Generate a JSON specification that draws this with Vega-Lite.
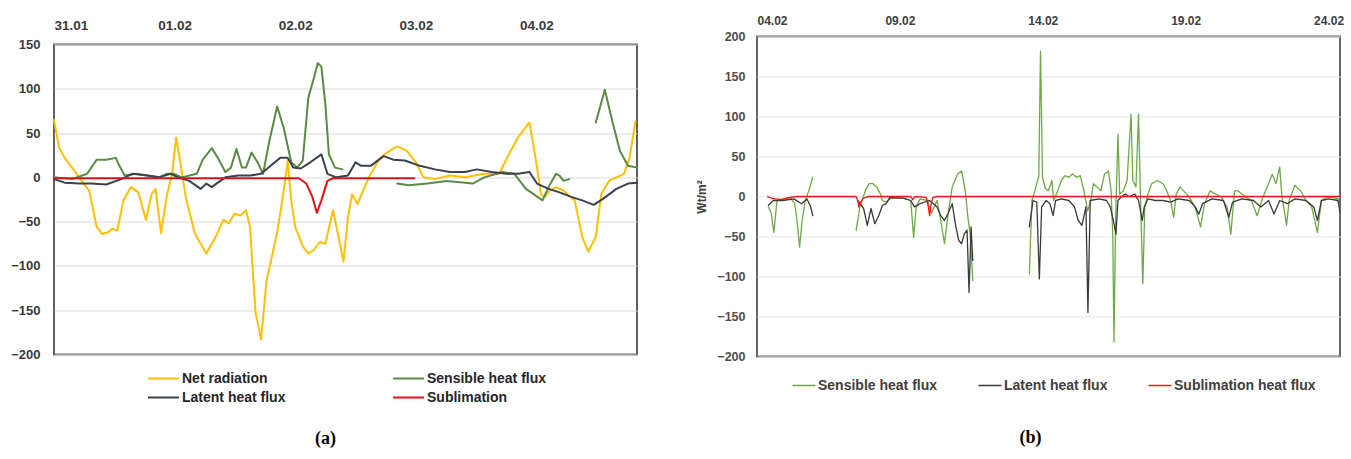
{
  "$schema": "https://vega.github.io/schema/vega-lite/v6.json",
  "background": "white",
  "padding": {"left": 9, "top": 13.5, "right": 5, "bottom": 0},
  "config": {"concat": {"spacing": 55}, "axis": {"labelFont": "Liberation Sans", "titleFont": "Liberation Sans"}, "legend": {"labelFont": "Liberation Sans"}},
  "datasets": {
    "a": [
      {"series":"Net radiation","seg":1,"t":0,"value":65},{"series":"Net radiation","seg":1,"t":1.0,"value":34},{"series":"Net radiation","seg":1,"t":2.1,"value":22},{"series":"Net radiation","seg":1,"t":3.6,"value":11},{"series":"Net radiation","seg":1,"t":5.5,"value":-4},{"series":"Net radiation","seg":1,"t":7.0,"value":-15},{"series":"Net radiation","seg":1,"t":8.5,"value":-56},{"series":"Net radiation","seg":1,"t":9.6,"value":-64},{"series":"Net radiation","seg":1,"t":10.8,"value":-62},{"series":"Net radiation","seg":1,"t":11.5,"value":-58},{"series":"Net radiation","seg":1,"t":12.6,"value":-60},{"series":"Net radiation","seg":1,"t":13.8,"value":-26},{"series":"Net radiation","seg":1,"t":15.3,"value":-11},{"series":"Net radiation","seg":1,"t":16.8,"value":-17},{"series":"Net radiation","seg":1,"t":18.3,"value":-48},{"series":"Net radiation","seg":1,"t":19.4,"value":-19},{"series":"Net radiation","seg":1,"t":20.2,"value":-13},{"series":"Net radiation","seg":1,"t":21.3,"value":-63},{"series":"Net radiation","seg":1,"t":22.4,"value":-22},{"series":"Net radiation","seg":1,"t":23.5,"value":4},{"series":"Net radiation","seg":1,"t":24.3,"value":45},{"series":"Net radiation","seg":1,"t":25.0,"value":22},{"series":"Net radiation","seg":1,"t":26.2,"value":-22},{"series":"Net radiation","seg":1,"t":28.0,"value":-63},{"series":"Net radiation","seg":1,"t":30.3,"value":-86},{"series":"Net radiation","seg":1,"t":32.2,"value":-67},{"series":"Net radiation","seg":1,"t":33.7,"value":-48},{"series":"Net radiation","seg":1,"t":34.8,"value":-52},{"series":"Net radiation","seg":1,"t":35.9,"value":-41},{"series":"Net radiation","seg":1,"t":37.1,"value":-43},{"series":"Net radiation","seg":1,"t":38.2,"value":-37},{"series":"Net radiation","seg":1,"t":39.0,"value":-56},{"series":"Net radiation","seg":1,"t":40.1,"value":-153},{"series":"Net radiation","seg":1,"t":41.2,"value":-183},{"series":"Net radiation","seg":1,"t":42.3,"value":-116},{"series":"Net radiation","seg":1,"t":43.5,"value":-86},{"series":"Net radiation","seg":1,"t":44.6,"value":-56},{"series":"Net radiation","seg":1,"t":45.7,"value":-15},{"series":"Net radiation","seg":1,"t":46.5,"value":19},{"series":"Net radiation","seg":1,"t":47.2,"value":-26},{"series":"Net radiation","seg":1,"t":48.0,"value":-56},{"series":"Net radiation","seg":1,"t":49.5,"value":-78},{"series":"Net radiation","seg":1,"t":50.6,"value":-86},{"series":"Net radiation","seg":1,"t":51.7,"value":-82},{"series":"Net radiation","seg":1,"t":52.9,"value":-73},{"series":"Net radiation","seg":1,"t":54.0,"value":-75},{"series":"Net radiation","seg":1,"t":55.5,"value":-37},{"series":"Net radiation","seg":1,"t":56.6,"value":-67},{"series":"Net radiation","seg":1,"t":57.6,"value":-95},{"series":"Net radiation","seg":1,"t":58.5,"value":-45},{"series":"Net radiation","seg":1,"t":59.3,"value":-19},{"series":"Net radiation","seg":1,"t":60.4,"value":-30},{"series":"Net radiation","seg":1,"t":61.5,"value":-15},{"series":"Net radiation","seg":1,"t":63.0,"value":4},{"series":"Net radiation","seg":1,"t":64.9,"value":22},{"series":"Net radiation","seg":1,"t":66.8,"value":30},{"series":"Net radiation","seg":1,"t":68.3,"value":35},{"series":"Net radiation","seg":1,"t":70.2,"value":30},{"series":"Net radiation","seg":1,"t":72.0,"value":17},{"series":"Net radiation","seg":1,"t":73.5,"value":0},{"series":"Net radiation","seg":1,"t":75.8,"value":-2},{"series":"Net radiation","seg":1,"t":78.8,"value":2},{"series":"Net radiation","seg":1,"t":81.8,"value":0},{"series":"Net radiation","seg":1,"t":85.6,"value":4},{"series":"Net radiation","seg":1,"t":88.6,"value":4},{"series":"Net radiation","seg":1,"t":90.5,"value":26},{"series":"Net radiation","seg":1,"t":92.3,"value":45},{"series":"Net radiation","seg":1,"t":94.6,"value":62},{"series":"Net radiation","seg":1,"t":95.7,"value":26},{"series":"Net radiation","seg":1,"t":96.9,"value":-19},{"series":"Net radiation","seg":1,"t":97.6,"value":-22},{"series":"Net radiation","seg":1,"t":98.7,"value":-15},{"series":"Net radiation","seg":1,"t":99.9,"value":-11},{"series":"Net radiation","seg":1,"t":101.4,"value":-15},{"series":"Net radiation","seg":1,"t":103.6,"value":-26},{"series":"Net radiation","seg":1,"t":105.1,"value":-67},{"series":"Net radiation","seg":1,"t":106.3,"value":-84},{"series":"Net radiation","seg":1,"t":107.8,"value":-67},{"series":"Net radiation","seg":1,"t":108.9,"value":-19},{"series":"Net radiation","seg":1,"t":110.4,"value":-4},{"series":"Net radiation","seg":1,"t":111.9,"value":0},{"series":"Net radiation","seg":1,"t":113.4,"value":4},{"series":"Net radiation","seg":1,"t":114.5,"value":22},{"series":"Net radiation","seg":1,"t":115.7,"value":63},
      {"series":"Sensible heat flux","seg":1,"t":0,"value":0},{"series":"Sensible heat flux","seg":1,"t":3.6,"value":-2},{"series":"Sensible heat flux","seg":1,"t":6.6,"value":4},{"series":"Sensible heat flux","seg":1,"t":8.5,"value":20},{"series":"Sensible heat flux","seg":1,"t":10.4,"value":20},{"series":"Sensible heat flux","seg":1,"t":12.3,"value":22},{"series":"Sensible heat flux","seg":1,"t":13.0,"value":13},{"series":"Sensible heat flux","seg":1,"t":14.1,"value":2},{"series":"Sensible heat flux","seg":1,"t":16.4,"value":4},{"series":"Sensible heat flux","seg":1,"t":18.6,"value":2},{"series":"Sensible heat flux","seg":1,"t":20.9,"value":0},{"series":"Sensible heat flux","seg":1,"t":22.4,"value":4},{"series":"Sensible heat flux","seg":1,"t":23.9,"value":4},{"series":"Sensible heat flux","seg":1,"t":25.4,"value":0},{"series":"Sensible heat flux","seg":1,"t":28.4,"value":4},{"series":"Sensible heat flux","seg":1,"t":29.6,"value":20},{"series":"Sensible heat flux","seg":1,"t":31.4,"value":33},{"series":"Sensible heat flux","seg":1,"t":32.6,"value":22},{"series":"Sensible heat flux","seg":1,"t":34.1,"value":6},{"series":"Sensible heat flux","seg":1,"t":35.2,"value":11},{"series":"Sensible heat flux","seg":1,"t":36.3,"value":32},{"series":"Sensible heat flux","seg":1,"t":37.4,"value":11},{"series":"Sensible heat flux","seg":1,"t":38.2,"value":11},{"series":"Sensible heat flux","seg":1,"t":39.3,"value":28},{"series":"Sensible heat flux","seg":1,"t":40.5,"value":17},{"series":"Sensible heat flux","seg":1,"t":41.6,"value":4},{"series":"Sensible heat flux","seg":1,"t":42.7,"value":37},{"series":"Sensible heat flux","seg":1,"t":44.4,"value":80},{"series":"Sensible heat flux","seg":1,"t":45.7,"value":56},{"series":"Sensible heat flux","seg":1,"t":47.2,"value":17},{"series":"Sensible heat flux","seg":1,"t":48.4,"value":11},{"series":"Sensible heat flux","seg":1,"t":49.5,"value":19},{"series":"Sensible heat flux","seg":1,"t":50.6,"value":90},{"series":"Sensible heat flux","seg":1,"t":51.7,"value":112},{"series":"Sensible heat flux","seg":1,"t":52.5,"value":129},{"series":"Sensible heat flux","seg":1,"t":53.2,"value":125},{"series":"Sensible heat flux","seg":1,"t":54.0,"value":82},{"series":"Sensible heat flux","seg":1,"t":54.7,"value":26},{"series":"Sensible heat flux","seg":1,"t":55.9,"value":11},{"series":"Sensible heat flux","seg":1,"t":57.4,"value":9},
      {"series":"Sensible heat flux","seg":2,"t":68.3,"value":-7},{"series":"Sensible heat flux","seg":2,"t":70.5,"value":-9},{"series":"Sensible heat flux","seg":2,"t":74.3,"value":-7},{"series":"Sensible heat flux","seg":2,"t":78.1,"value":-4},{"series":"Sensible heat flux","seg":2,"t":81.8,"value":-6},{"series":"Sensible heat flux","seg":2,"t":83.3,"value":-7},{"series":"Sensible heat flux","seg":2,"t":85.6,"value":0},{"series":"Sensible heat flux","seg":2,"t":89.3,"value":6},{"series":"Sensible heat flux","seg":2,"t":91.6,"value":4},{"series":"Sensible heat flux","seg":2,"t":93.9,"value":-13},{"series":"Sensible heat flux","seg":2,"t":95.7,"value":-20},{"series":"Sensible heat flux","seg":2,"t":97.2,"value":-26},{"series":"Sensible heat flux","seg":2,"t":98.4,"value":-11},{"series":"Sensible heat flux","seg":2,"t":99.9,"value":4},{"series":"Sensible heat flux","seg":2,"t":100.6,"value":2},{"series":"Sensible heat flux","seg":2,"t":101.4,"value":-4},{"series":"Sensible heat flux","seg":2,"t":102.5,"value":-2},
      {"series":"Sensible heat flux","seg":3,"t":107.8,"value":62},{"series":"Sensible heat flux","seg":3,"t":109.6,"value":99},{"series":"Sensible heat flux","seg":3,"t":111.1,"value":63},{"series":"Sensible heat flux","seg":3,"t":112.6,"value":30},{"series":"Sensible heat flux","seg":3,"t":114.2,"value":13},{"series":"Sensible heat flux","seg":3,"t":116,"value":11},
      {"series":"Latent heat flux","seg":1,"t":0,"value":-2},{"series":"Latent heat flux","seg":1,"t":2.1,"value":-6},{"series":"Latent heat flux","seg":1,"t":5.1,"value":-7},{"series":"Latent heat flux","seg":1,"t":7.4,"value":-7},{"series":"Latent heat flux","seg":1,"t":10.4,"value":-8},{"series":"Latent heat flux","seg":1,"t":13.4,"value":-2},{"series":"Latent heat flux","seg":1,"t":15.6,"value":4},{"series":"Latent heat flux","seg":1,"t":18.6,"value":2},{"series":"Latent heat flux","seg":1,"t":20.9,"value":0},{"series":"Latent heat flux","seg":1,"t":23.2,"value":4},{"series":"Latent heat flux","seg":1,"t":24.7,"value":0},{"series":"Latent heat flux","seg":1,"t":26.9,"value":-4},{"series":"Latent heat flux","seg":1,"t":29.2,"value":-13},{"series":"Latent heat flux","seg":1,"t":30.3,"value":-7},{"series":"Latent heat flux","seg":1,"t":31.4,"value":-11},{"series":"Latent heat flux","seg":1,"t":32.6,"value":-6},{"series":"Latent heat flux","seg":1,"t":34.1,"value":0},{"series":"Latent heat flux","seg":1,"t":36.7,"value":2},{"series":"Latent heat flux","seg":1,"t":39.0,"value":2},{"series":"Latent heat flux","seg":1,"t":41.2,"value":4},{"series":"Latent heat flux","seg":1,"t":43.1,"value":13},{"series":"Latent heat flux","seg":1,"t":45.0,"value":22},{"series":"Latent heat flux","seg":1,"t":46.5,"value":22},{"series":"Latent heat flux","seg":1,"t":47.6,"value":11},{"series":"Latent heat flux","seg":1,"t":49.1,"value":10},{"series":"Latent heat flux","seg":1,"t":51.0,"value":17},{"series":"Latent heat flux","seg":1,"t":53.2,"value":26},{"series":"Latent heat flux","seg":1,"t":54.4,"value":4},{"series":"Latent heat flux","seg":1,"t":56.2,"value":0},{"series":"Latent heat flux","seg":1,"t":58.5,"value":2},{"series":"Latent heat flux","seg":1,"t":60.0,"value":17},{"series":"Latent heat flux","seg":1,"t":61.1,"value":13},{"series":"Latent heat flux","seg":1,"t":63.0,"value":13},{"series":"Latent heat flux","seg":1,"t":65.6,"value":24},{"series":"Latent heat flux","seg":1,"t":67.5,"value":20},{"series":"Latent heat flux","seg":1,"t":69.8,"value":19},{"series":"Latent heat flux","seg":1,"t":72.8,"value":13},{"series":"Latent heat flux","seg":1,"t":75.8,"value":9},{"series":"Latent heat flux","seg":1,"t":78.8,"value":6},{"series":"Latent heat flux","seg":1,"t":81.8,"value":6},{"series":"Latent heat flux","seg":1,"t":84.1,"value":9},{"series":"Latent heat flux","seg":1,"t":87.1,"value":6},{"series":"Latent heat flux","seg":1,"t":90.1,"value":4},{"series":"Latent heat flux","seg":1,"t":92.3,"value":4},{"series":"Latent heat flux","seg":1,"t":94.6,"value":6},{"series":"Latent heat flux","seg":1,"t":96.1,"value":-7},{"series":"Latent heat flux","seg":1,"t":98.4,"value":-13},{"series":"Latent heat flux","seg":1,"t":100.6,"value":-17},{"series":"Latent heat flux","seg":1,"t":102.9,"value":-22},{"series":"Latent heat flux","seg":1,"t":105.1,"value":-26},{"series":"Latent heat flux","seg":1,"t":107.4,"value":-31},{"series":"Latent heat flux","seg":1,"t":109.3,"value":-24},{"series":"Latent heat flux","seg":1,"t":111.9,"value":-13},{"series":"Latent heat flux","seg":1,"t":114.2,"value":-7},{"series":"Latent heat flux","seg":1,"t":116,"value":-6},
      {"series":"Sublimation","seg":1,"t":0,"value":-1},{"series":"Sublimation","seg":1,"t":12,"value":-1},{"series":"Sublimation","seg":1,"t":24,"value":-1},{"series":"Sublimation","seg":1,"t":36,"value":-1},{"series":"Sublimation","seg":1,"t":48.7,"value":-1},{"series":"Sublimation","seg":1,"t":50.2,"value":-7},{"series":"Sublimation","seg":1,"t":51.4,"value":-22},{"series":"Sublimation","seg":1,"t":52.3,"value":-40},{"series":"Sublimation","seg":1,"t":53.2,"value":-26},{"series":"Sublimation","seg":1,"t":54.4,"value":-4},{"series":"Sublimation","seg":1,"t":55.5,"value":-1},{"series":"Sublimation","seg":1,"t":62,"value":-1},{"series":"Sublimation","seg":1,"t":71.7,"value":-1}
    ],
    "b": [
      {"series":"Sensible heat flux","seg":1,"t":0.40,"value":-13},{"series":"Sensible heat flux","seg":1,"t":0.50,"value":-21},{"series":"Sensible heat flux","seg":1,"t":0.59,"value":-45},{"series":"Sensible heat flux","seg":1,"t":0.70,"value":-5},{"series":"Sensible heat flux","seg":1,"t":0.90,"value":-3},{"series":"Sensible heat flux","seg":1,"t":1.16,"value":-1},{"series":"Sensible heat flux","seg":1,"t":1.32,"value":-9},{"series":"Sensible heat flux","seg":1,"t":1.40,"value":-30},{"series":"Sensible heat flux","seg":1,"t":1.49,"value":-63},{"series":"Sensible heat flux","seg":1,"t":1.58,"value":-30},{"series":"Sensible heat flux","seg":1,"t":1.69,"value":-5},{"series":"Sensible heat flux","seg":1,"t":1.82,"value":8},{"series":"Sensible heat flux","seg":1,"t":1.95,"value":24},
      {"series":"Sensible heat flux","seg":2,"t":3.47,"value":-42},{"series":"Sensible heat flux","seg":2,"t":3.60,"value":-13},{"series":"Sensible heat flux","seg":2,"t":3.80,"value":8},{"series":"Sensible heat flux","seg":2,"t":3.93,"value":16},{"series":"Sensible heat flux","seg":2,"t":4.06,"value":16},{"series":"Sensible heat flux","seg":2,"t":4.19,"value":12},{"series":"Sensible heat flux","seg":2,"t":4.32,"value":3},{"series":"Sensible heat flux","seg":2,"t":4.39,"value":-5},{"series":"Sensible heat flux","seg":2,"t":4.52,"value":-7},{"series":"Sensible heat flux","seg":2,"t":4.65,"value":-3},{"series":"Sensible heat flux","seg":2,"t":4.85,"value":-1},{"series":"Sensible heat flux","seg":2,"t":5.11,"value":-2},{"series":"Sensible heat flux","seg":2,"t":5.38,"value":-5},{"series":"Sensible heat flux","seg":2,"t":5.48,"value":-51},{"series":"Sensible heat flux","seg":2,"t":5.57,"value":-13},{"series":"Sensible heat flux","seg":2,"t":5.71,"value":-3},{"series":"Sensible heat flux","seg":2,"t":5.97,"value":-5},{"series":"Sensible heat flux","seg":2,"t":6.10,"value":-21},{"series":"Sensible heat flux","seg":2,"t":6.30,"value":-5},{"series":"Sensible heat flux","seg":2,"t":6.43,"value":-30},{"series":"Sensible heat flux","seg":2,"t":6.56,"value":-59},{"series":"Sensible heat flux","seg":2,"t":6.69,"value":-21},{"series":"Sensible heat flux","seg":2,"t":6.83,"value":12},{"series":"Sensible heat flux","seg":2,"t":7.02,"value":28},{"series":"Sensible heat flux","seg":2,"t":7.16,"value":32},{"series":"Sensible heat flux","seg":2,"t":7.29,"value":7},{"series":"Sensible heat flux","seg":2,"t":7.38,"value":-26},{"series":"Sensible heat flux","seg":2,"t":7.46,"value":-47},{"series":"Sensible heat flux","seg":2,"t":7.55,"value":-105},
      {"series":"Sensible heat flux","seg":3,"t":9.53,"value":-97},{"series":"Sensible heat flux","seg":3,"t":9.62,"value":-5},{"series":"Sensible heat flux","seg":3,"t":9.73,"value":8},{"series":"Sensible heat flux","seg":3,"t":9.82,"value":20},{"series":"Sensible heat flux","seg":3,"t":9.86,"value":25},{"series":"Sensible heat flux","seg":3,"t":9.92,"value":182},{"series":"Sensible heat flux","seg":3,"t":9.99,"value":24},{"series":"Sensible heat flux","seg":3,"t":10.09,"value":10},{"series":"Sensible heat flux","seg":3,"t":10.19,"value":7},{"series":"Sensible heat flux","seg":3,"t":10.32,"value":20},{"series":"Sensible heat flux","seg":3,"t":10.38,"value":-5},{"series":"Sensible heat flux","seg":3,"t":10.52,"value":7},{"series":"Sensible heat flux","seg":3,"t":10.65,"value":20},{"series":"Sensible heat flux","seg":3,"t":10.78,"value":26},{"series":"Sensible heat flux","seg":3,"t":10.91,"value":24},{"series":"Sensible heat flux","seg":3,"t":11.04,"value":28},{"series":"Sensible heat flux","seg":3,"t":11.18,"value":24},{"series":"Sensible heat flux","seg":3,"t":11.31,"value":26},{"series":"Sensible heat flux","seg":3,"t":11.44,"value":7},{"series":"Sensible heat flux","seg":3,"t":11.57,"value":-18},{"series":"Sensible heat flux","seg":3,"t":11.68,"value":-5},{"series":"Sensible heat flux","seg":3,"t":11.77,"value":16},{"series":"Sensible heat flux","seg":3,"t":11.90,"value":12},{"series":"Sensible heat flux","seg":3,"t":12.03,"value":7},{"series":"Sensible heat flux","seg":3,"t":12.16,"value":28},{"series":"Sensible heat flux","seg":3,"t":12.30,"value":32},{"series":"Sensible heat flux","seg":3,"t":12.39,"value":7},{"series":"Sensible heat flux","seg":3,"t":12.45,"value":-50},{"series":"Sensible heat flux","seg":3,"t":12.49,"value":-182},{"series":"Sensible heat flux","seg":3,"t":12.55,"value":-25},{"series":"Sensible heat flux","seg":3,"t":12.63,"value":78},{"series":"Sensible heat flux","seg":3,"t":12.69,"value":3},{"series":"Sensible heat flux","seg":3,"t":12.82,"value":7},{"series":"Sensible heat flux","seg":3,"t":12.95,"value":20},{"series":"Sensible heat flux","seg":3,"t":13.09,"value":103},{"series":"Sensible heat flux","seg":3,"t":13.15,"value":20},{"series":"Sensible heat flux","seg":3,"t":13.26,"value":12},{"series":"Sensible heat flux","seg":3,"t":13.35,"value":103},{"series":"Sensible heat flux","seg":3,"t":13.42,"value":-5},{"series":"Sensible heat flux","seg":3,"t":13.50,"value":-109},{"series":"Sensible heat flux","seg":3,"t":13.57,"value":-13},{"series":"Sensible heat flux","seg":3,"t":13.68,"value":3},{"series":"Sensible heat flux","seg":3,"t":13.81,"value":16},{"series":"Sensible heat flux","seg":3,"t":14.01,"value":20},{"series":"Sensible heat flux","seg":3,"t":14.21,"value":16},{"series":"Sensible heat flux","seg":3,"t":14.34,"value":7},{"series":"Sensible heat flux","seg":3,"t":14.47,"value":-5},{"series":"Sensible heat flux","seg":3,"t":14.58,"value":-26},{"series":"Sensible heat flux","seg":3,"t":14.67,"value":3},{"series":"Sensible heat flux","seg":3,"t":14.80,"value":12},{"series":"Sensible heat flux","seg":3,"t":14.93,"value":7},{"series":"Sensible heat flux","seg":3,"t":15.13,"value":-1},{"series":"Sensible heat flux","seg":3,"t":15.33,"value":-13},{"series":"Sensible heat flux","seg":3,"t":15.52,"value":-38},{"series":"Sensible heat flux","seg":3,"t":15.66,"value":-9},{"series":"Sensible heat flux","seg":3,"t":15.85,"value":7},{"series":"Sensible heat flux","seg":3,"t":16.05,"value":3},{"series":"Sensible heat flux","seg":3,"t":16.25,"value":-1},{"series":"Sensible heat flux","seg":3,"t":16.45,"value":-13},{"series":"Sensible heat flux","seg":3,"t":16.58,"value":-47},{"series":"Sensible heat flux","seg":3,"t":16.71,"value":7},{"series":"Sensible heat flux","seg":3,"t":16.84,"value":7},{"series":"Sensible heat flux","seg":3,"t":17.11,"value":-1},{"series":"Sensible heat flux","seg":3,"t":17.30,"value":-5},{"series":"Sensible heat flux","seg":3,"t":17.50,"value":-24},{"series":"Sensible heat flux","seg":3,"t":17.70,"value":-1},{"series":"Sensible heat flux","seg":3,"t":17.90,"value":16},{"series":"Sensible heat flux","seg":3,"t":18.03,"value":28},{"series":"Sensible heat flux","seg":3,"t":18.16,"value":16},{"series":"Sensible heat flux","seg":3,"t":18.29,"value":37},{"series":"Sensible heat flux","seg":3,"t":18.36,"value":3},{"series":"Sensible heat flux","seg":3,"t":18.53,"value":-36},{"series":"Sensible heat flux","seg":3,"t":18.62,"value":-5},{"series":"Sensible heat flux","seg":3,"t":18.82,"value":14},{"series":"Sensible heat flux","seg":3,"t":19.02,"value":7},{"series":"Sensible heat flux","seg":3,"t":19.21,"value":-5},{"series":"Sensible heat flux","seg":3,"t":19.41,"value":-13},{"series":"Sensible heat flux","seg":3,"t":19.61,"value":-45},{"series":"Sensible heat flux","seg":3,"t":19.75,"value":-5},{"series":"Sensible heat flux","seg":3,"t":19.94,"value":-1},{"series":"Sensible heat flux","seg":3,"t":20.14,"value":-1},{"series":"Sensible heat flux","seg":3,"t":20.33,"value":-3},{"series":"Sensible heat flux","seg":3,"t":20.4,"value":-17},
      {"series":"Latent heat flux","seg":1,"t":0.40,"value":-11},{"series":"Latent heat flux","seg":1,"t":0.57,"value":-5},{"series":"Latent heat flux","seg":1,"t":0.90,"value":-5},{"series":"Latent heat flux","seg":1,"t":1.29,"value":-3},{"series":"Latent heat flux","seg":1,"t":1.56,"value":-9},{"series":"Latent heat flux","seg":1,"t":1.75,"value":-3},{"series":"Latent heat flux","seg":1,"t":1.88,"value":-13},{"series":"Latent heat flux","seg":1,"t":1.95,"value":-24},
      {"series":"Latent heat flux","seg":2,"t":3.53,"value":-5},{"series":"Latent heat flux","seg":2,"t":3.73,"value":-15},{"series":"Latent heat flux","seg":2,"t":3.86,"value":-36},{"series":"Latent heat flux","seg":2,"t":3.99,"value":-15},{"series":"Latent heat flux","seg":2,"t":4.12,"value":-34},{"series":"Latent heat flux","seg":2,"t":4.26,"value":-24},{"series":"Latent heat flux","seg":2,"t":4.39,"value":-11},{"series":"Latent heat flux","seg":2,"t":4.52,"value":-9},{"series":"Latent heat flux","seg":2,"t":4.65,"value":-1},{"series":"Latent heat flux","seg":2,"t":4.85,"value":-2},{"series":"Latent heat flux","seg":2,"t":5.11,"value":-2},{"series":"Latent heat flux","seg":2,"t":5.38,"value":-5},{"series":"Latent heat flux","seg":2,"t":5.51,"value":-13},{"series":"Latent heat flux","seg":2,"t":5.71,"value":-9},{"series":"Latent heat flux","seg":2,"t":6.04,"value":-5},{"series":"Latent heat flux","seg":2,"t":6.30,"value":-13},{"series":"Latent heat flux","seg":2,"t":6.43,"value":-24},{"series":"Latent heat flux","seg":2,"t":6.56,"value":-30},{"series":"Latent heat flux","seg":2,"t":6.69,"value":-21},{"series":"Latent heat flux","seg":2,"t":6.83,"value":-9},{"series":"Latent heat flux","seg":2,"t":6.96,"value":-38},{"series":"Latent heat flux","seg":2,"t":7.06,"value":-55},{"series":"Latent heat flux","seg":2,"t":7.16,"value":-59},{"series":"Latent heat flux","seg":2,"t":7.25,"value":-47},{"series":"Latent heat flux","seg":2,"t":7.35,"value":-42},{"series":"Latent heat flux","seg":2,"t":7.42,"value":-120},{"series":"Latent heat flux","seg":2,"t":7.49,"value":-38},{"series":"Latent heat flux","seg":2,"t":7.55,"value":-80},
      {"series":"Latent heat flux","seg":3,"t":9.53,"value":-38},{"series":"Latent heat flux","seg":3,"t":9.66,"value":-5},{"series":"Latent heat flux","seg":3,"t":9.79,"value":-7},{"series":"Latent heat flux","seg":3,"t":9.88,"value":-103},{"series":"Latent heat flux","seg":3,"t":9.96,"value":-13},{"series":"Latent heat flux","seg":3,"t":10.12,"value":-5},{"series":"Latent heat flux","seg":3,"t":10.25,"value":-9},{"series":"Latent heat flux","seg":3,"t":10.36,"value":-24},{"series":"Latent heat flux","seg":3,"t":10.45,"value":-5},{"series":"Latent heat flux","seg":3,"t":10.65,"value":-3},{"series":"Latent heat flux","seg":3,"t":10.91,"value":-5},{"series":"Latent heat flux","seg":3,"t":11.11,"value":-13},{"series":"Latent heat flux","seg":3,"t":11.24,"value":-30},{"series":"Latent heat flux","seg":3,"t":11.37,"value":-36},{"series":"Latent heat flux","seg":3,"t":11.51,"value":-13},{"series":"Latent heat flux","seg":3,"t":11.58,"value":-145},{"series":"Latent heat flux","seg":3,"t":11.66,"value":-5},{"series":"Latent heat flux","seg":3,"t":11.97,"value":-3},{"series":"Latent heat flux","seg":3,"t":12.23,"value":-5},{"series":"Latent heat flux","seg":3,"t":12.36,"value":-13},{"series":"Latent heat flux","seg":3,"t":12.47,"value":-30},{"series":"Latent heat flux","seg":3,"t":12.56,"value":-47},{"series":"Latent heat flux","seg":3,"t":12.63,"value":-5},{"series":"Latent heat flux","seg":3,"t":12.76,"value":0},{"series":"Latent heat flux","seg":3,"t":12.89,"value":3},{"series":"Latent heat flux","seg":3,"t":13.02,"value":0},{"series":"Latent heat flux","seg":3,"t":13.22,"value":3},{"series":"Latent heat flux","seg":3,"t":13.35,"value":-5},{"series":"Latent heat flux","seg":3,"t":13.48,"value":-30},{"series":"Latent heat flux","seg":3,"t":13.55,"value":-13},{"series":"Latent heat flux","seg":3,"t":13.68,"value":-3},{"series":"Latent heat flux","seg":3,"t":13.94,"value":-5},{"series":"Latent heat flux","seg":3,"t":14.21,"value":-5},{"series":"Latent heat flux","seg":3,"t":14.47,"value":-7},{"series":"Latent heat flux","seg":3,"t":14.73,"value":-3},{"series":"Latent heat flux","seg":3,"t":15.13,"value":-5},{"series":"Latent heat flux","seg":3,"t":15.33,"value":-13},{"series":"Latent heat flux","seg":3,"t":15.46,"value":-22},{"series":"Latent heat flux","seg":3,"t":15.59,"value":-9},{"series":"Latent heat flux","seg":3,"t":15.92,"value":-3},{"series":"Latent heat flux","seg":3,"t":16.32,"value":-5},{"series":"Latent heat flux","seg":3,"t":16.51,"value":-26},{"series":"Latent heat flux","seg":3,"t":16.64,"value":-7},{"series":"Latent heat flux","seg":3,"t":16.97,"value":-3},{"series":"Latent heat flux","seg":3,"t":17.37,"value":-5},{"series":"Latent heat flux","seg":3,"t":17.63,"value":-13},{"series":"Latent heat flux","seg":3,"t":17.90,"value":-5},{"series":"Latent heat flux","seg":3,"t":18.09,"value":-22},{"series":"Latent heat flux","seg":3,"t":18.29,"value":-5},{"series":"Latent heat flux","seg":3,"t":18.56,"value":-9},{"series":"Latent heat flux","seg":3,"t":18.82,"value":-3},{"series":"Latent heat flux","seg":3,"t":19.21,"value":-5},{"series":"Latent heat flux","seg":3,"t":19.48,"value":-13},{"series":"Latent heat flux","seg":3,"t":19.61,"value":-30},{"series":"Latent heat flux","seg":3,"t":19.75,"value":-5},{"series":"Latent heat flux","seg":3,"t":20.01,"value":-3},{"series":"Latent heat flux","seg":3,"t":20.33,"value":-5},{"series":"Latent heat flux","seg":3,"t":20.4,"value":-20},
      {"series":"Sublimation heat flux","seg":1,"t":0.37,"value":0},{"series":"Sublimation heat flux","seg":1,"t":0.50,"value":-2},{"series":"Sublimation heat flux","seg":1,"t":0.63,"value":-3},{"series":"Sublimation heat flux","seg":1,"t":0.90,"value":-4},{"series":"Sublimation heat flux","seg":1,"t":1.16,"value":-1},{"series":"Sublimation heat flux","seg":1,"t":1.40,"value":0},{"series":"Sublimation heat flux","seg":1,"t":3.47,"value":0},{"series":"Sublimation heat flux","seg":1,"t":3.53,"value":-6},{"series":"Sublimation heat flux","seg":1,"t":3.56,"value":-13},{"series":"Sublimation heat flux","seg":1,"t":3.62,"value":-8},{"series":"Sublimation heat flux","seg":1,"t":3.70,"value":-3},{"series":"Sublimation heat flux","seg":1,"t":3.80,"value":-1},{"series":"Sublimation heat flux","seg":1,"t":3.90,"value":0},{"series":"Sublimation heat flux","seg":1,"t":5.38,"value":0},{"series":"Sublimation heat flux","seg":1,"t":5.45,"value":-4},{"series":"Sublimation heat flux","seg":1,"t":5.52,"value":0},{"series":"Sublimation heat flux","seg":1,"t":5.92,"value":-1},{"series":"Sublimation heat flux","seg":1,"t":5.98,"value":-10},{"series":"Sublimation heat flux","seg":1,"t":6.04,"value":-24},{"series":"Sublimation heat flux","seg":1,"t":6.10,"value":-8},{"series":"Sublimation heat flux","seg":1,"t":6.16,"value":-1},{"series":"Sublimation heat flux","seg":1,"t":6.30,"value":0},{"series":"Sublimation heat flux","seg":1,"t":12.0,"value":0},{"series":"Sublimation heat flux","seg":1,"t":20.4,"value":0}
    ],
    "none": []
  },
  "resolve": {"scale": {"color": "independent", "strokeWidth": "independent", "x": "independent", "y": "independent"}, "legend": {"color": "independent"}},
  "hconcat": [
    {
      "spacing": -20,
      "resolve": {"scale": {"color": "independent", "strokeWidth": "independent", "x": "independent", "y": "independent"}, "legend": {"color": "independent"}},
      "vconcat": [
        {
          "width": 583,
          "height": 1,
          "view": {"stroke": null},
          "data": {"name": "none"},
          "mark": {"type": "point"},
          "encoding": {}
        },
        {
          "width": 583,
          "height": 310,
          "view": {"stroke": "#5f5f5f", "strokeWidth": 2},
          "data": {"name": "a"},
          "title": {"text": "(a)", "orient": "bottom", "frame": "group", "anchor": "middle", "dx": -20, "offset": 25, "font": "Liberation Serif", "fontSize": 18, "fontWeight": "bold", "color": "#000000"},
          "mark": {"type": "line", "strokeJoin": "round", "strokeCap": "round"},
          "encoding": {
            "x": {"field": "t", "type": "quantitative", "scale": {"domain": [0, 116], "nice": false, "zero": false},
              "axis": {"orient": "top", "title": null, "values": [0, 24, 48, 72, 96], "labelExpr": "['31.01','01.02','02.02','03.02','04.02'][round(datum.value/24)]", "ticks": false, "domain": false, "grid": false, "labelFontSize": 13.5, "labelFontWeight": "bold", "labelColor": "#3a3a3a", "labelPadding": 12}},
            "y": {"field": "value", "type": "quantitative", "scale": {"domain": [-200, 150], "nice": false},
              "axis": {"title": null, "values": [-200, -150, -100, -50, 0, 50, 100, 150], "ticks": false, "domain": false, "grid": true, "gridColor": "#d9d9d9", "gridWidth": 1, "labelFontSize": 13, "labelFontWeight": "bold", "labelColor": "#3a3a3a", "labelPadding": 14}},
            "color": {"field": "series", "type": "nominal",
              "scale": {"domain": ["Net radiation", "Sensible heat flux", "Latent heat flux", "Sublimation"], "range": ["#FFC000", "#5B8A45", "#3C4150", "#E3101A"]},
              "legend": {"title": null, "orient": "none", "direction": "horizontal", "legendX": 93, "legendY": 327, "columns": 2, "columnPadding": 106, "rowPadding": 5, "clipHeight": 14, "symbolType": "stroke", "symbolSize": 961, "symbolStrokeWidth": 2.5, "labelOffset": 2, "labelFontSize": 14, "labelFontWeight": "bold", "labelColor": "#262626", "labelLimit": 300}},
            "strokeWidth": {"field": "series", "type": "nominal", "scale": {"domain": ["Net radiation", "Sensible heat flux", "Latent heat flux", "Sublimation"], "range": [2, 2, 2, 3.5]}, "legend": null},
            "detail": {"field": "seg", "type": "nominal"}
          }
        }
      ]
    },
    {
      "width": 583,
      "height": 320,
      "view": {"stroke": "#666666", "strokeWidth": 2},
      "data": {"name": "b"},
      "title": {"text": "(b)", "orient": "bottom", "frame": "group", "anchor": "middle", "dx": -18, "offset": 36, "font": "Liberation Serif", "fontSize": 18, "fontWeight": "bold", "color": "#000000"},
      "mark": {"type": "line", "strokeJoin": "round", "strokeCap": "round"},
      "encoding": {
        "x": {"field": "t", "type": "quantitative", "scale": {"domain": [0, 20.4], "nice": false, "zero": false},
          "axis": {"orient": "top", "title": null, "values": [0, 5, 10, 15, 20], "labelExpr": "['04.02','09.02','14.02','19.02','24.02'][round(datum.value/5)]", "ticks": false, "domain": false, "grid": false, "labelFontSize": 12, "labelFontWeight": "bold", "labelColor": "#404040", "labelPadding": 9}},
        "y": {"field": "value", "type": "quantitative", "scale": {"domain": [-200, 200], "nice": false},
          "axis": {"title": "Wt/m²", "titleFontSize": 12, "titleFontWeight": "bold", "titleColor": "#404040", "titlePadding": 8, "values": [-200, -150, -100, -50, 0, 50, 100, 150, 200], "ticks": false, "domain": false, "grid": true, "gridColor": "#e6e6e6", "gridWidth": 1, "labelFontSize": 12.5, "labelFontWeight": "bold", "labelColor": "#4d4d4d", "labelPadding": 12}},
        "color": {"field": "series", "type": "nominal",
          "scale": {"domain": ["Sensible heat flux", "Latent heat flux", "Sublimation heat flux"], "range": ["#6DAA45", "#3A3A3A", "#FF1010"]},
          "legend": {"title": null, "orient": "none", "direction": "horizontal", "legendX": 34.5, "legendY": 343, "columnPadding": 40, "clipHeight": 12, "symbolType": "stroke", "symbolSize": 529, "symbolStrokeWidth": 2.5, "labelOffset": 1.5, "labelFontSize": 14, "labelFontWeight": "bold", "labelColor": "#404040", "labelLimit": 300}},
        "strokeWidth": {"field": "series", "type": "nominal", "scale": {"domain": ["Sensible heat flux", "Latent heat flux", "Sublimation heat flux"], "range": [1.3, 1.3, 2.6]}, "legend": null},
        "detail": {"field": "seg", "type": "nominal"}
      }
    }
  ]
}
